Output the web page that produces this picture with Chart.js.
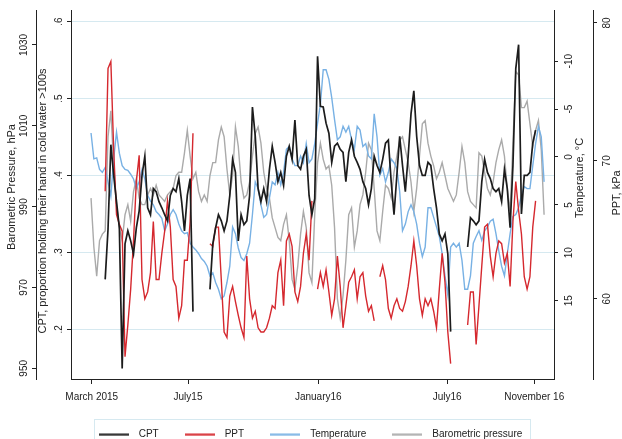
<!DOCTYPE html>
<html>
<head>
<meta charset="utf-8">
<script src="https://cdn.jsdelivr.net/npm/chart.js@4.4.0/dist/chart.umd.min.js"></script>
<style>
  html, body { margin: 0; padding: 0; background: #fff; }
  #wrap { width: 622px; height: 439px; }
</style>
</head>
<body>
<div id="wrap"><canvas id="chart" width="622" height="439"></canvas></div>
<script>
// one reading every 4 days, day 0 = 1 Jan 2015
const firstDay = 44
const stepDays = 4

const cpt = [
  null, null, null, null, null, 0.265, 0.33, 0.44, 0.40, 0.366,
  0.332, 0.149, 0.311, 0.328, 0.315, 0.298, 0.332, 0.354, 0.40, 0.425,
  0.358, 0.349, 0.383, 0.379, 0.366, 0.358, 0.349, 0.341, 0.374, 0.383,
  0.379, 0.396, 0.366, 0.328, 0.374, 0.396, 0.223, null, null, null,
  null, null, 0.252, 0.311, 0.332, 0.349, 0.341, 0.328, 0.341, 0.374,
  0.421, 0.404, 0.315, 0.349, 0.336, 0.341, 0.374, 0.489, 0.451, 0.383,
  0.366, 0.383, 0.366, 0.408, 0.438, 0.417, 0.392, 0.404, 0.387, 0.425,
  0.438, 0.421, 0.472, 0.413, 0.408, 0.425, 0.434, 0.374, 0.349, 0.37,
  0.555, 0.49, 0.489, 0.468, 0.455, 0.417, 0.438, 0.442, 0.434, 0.430,
  0.392, 0.430, 0.446, 0.425, 0.417, 0.408, 0.392, 0.383, 0.362, 0.383,
  0.425, 0.413, 0.404, 0.421, 0.442, 0.446, 0.392, 0.349, 0.400, 0.451,
  0.413, 0.379, 0.425, 0.480, 0.510, 0.451, 0.413, 0.400, 0.400, 0.417,
  0.413, 0.383, 0.358, 0.324, 0.315, 0.324, 0.298, 0.197, null, null,
  null, null, null, 0.307, 0.345, 0.341, 0.336, 0.341, 0.392, 0.421,
  0.404, 0.396, 0.383, 0.379, 0.383, 0.366, 0.408, 0.383, 0.332, 0.413,
  0.539, 0.570, 0.35, 0.40, 0.400, 0.404, 0.442, 0.459, null, null,
  null
]

const ppt = [
  null, null, null, null, null, 67.8, 76.7, 77.2, 70.8, 66.1,
  65.4, 64.9, 55.8, 58.1, 60.7, 64.2, 68.5, 70.4, 61.4, 60.0,
  60.5, 61.9, 65.6, 61.4, 61.4, 63.3, 64.9, 67.1, 65.2, 61.4,
  60.9, 58.6, 59.5, 62.8, 62.8, 65.6, 72.0, null, null, null,
  null, null, 64.0, 63.8, 65.2, 65.2, 61.4, 57.6, 57.2, 60.2,
  60.9, 59.8, 58.8, 57.9, 57.2, 63.1, 60.0, 58.6, 59.1, 57.9,
  57.6, 57.6, 57.9, 58.6, 59.5, 59.3, 61.9, 62.8, 59.5, 64.2,
  64.7, 63.8, 60.5, 59.8, 60.9, 63.3, 64.7, 62.8, 67.1, null,
  60.7, 61.9, 60.9, 62.1, 60.5, 58.8, 60.0, 63.1, 60.9, 57.9,
  59.5, 61.2, 61.6, 62.1, 60.0, 61.6, 61.9, 60.2, 59.1, 59.5,
  58.4, null, 61.6, 62.4, 61.4, 59.3, 58.6, 59.5, 60.0, 59.3,
  59.1, 59.8, 60.9, 62.4, 64.2, 62.4, 60.0, 58.8, 60.0, 59.5,
  60.0, 59.1, 57.9, 60.7, 63.3, 61.2, 57.6, 55.3, null, null,
  null, null, null, 58.1, 60.5, 60.5, 56.7, 59.5, 62.4, 65.2,
  65.4, 63.1, 61.6, 63.3, 64.2, 64.0, 62.6, 63.3, 60.9, 65.6,
  68.5, 66.4, 64.7, 61.6, 60.7, 61.6, 65.2, 67.1, null, null,
  null
]

const temperature = [
  -2.5, 0.2, 0.1, 1.3, 1.6, 1.1, 2.6, 4.1, 0.2, -2.6,
  -0.4, 0.9, 1.3, 1.4, 1.8, 2.3, 3.3, 2.6, 1.3, 2.3,
  4.0, 4.6, 5.0, 5.7, 6.0, 6.4, 7.7, 7.0, 6.0, 5.5,
  6.0, 7.0, 7.7, 8.0, 7.9, 9.0, 9.4, 9.7, 10.1, 10.6,
  10.9, 11.4, 12.4, 12.1, 13.1, 13.8, 14.8, 14.5, 13.1, 11.4,
  7.3, 8.0, 9.5, 10.5, 10.8, 10.1, 9.0, 6.0, 2.6, 3.3,
  5.0, 6.3, 6.0, 4.3, 2.6, 2.9, 1.6, 2.9, 1.6, -0.8,
  -1.1, 0.2, 0.9, 0.9, -0.1, 0.6, -1.4, 0.6, 0.2, -1.4,
  -3.5, -5.5, -9.1, -9.1, -8.1, -6.2, -3.9, -1.8, -2.1, -3.2,
  -2.6, -3.2, -1.8, -0.8, -3.2, -2.8, -1.1, -1.4, -0.1, 0.2,
  -4.5, -2.1, 1.9, 1.2, 2.6, 1.6, 0.2, 0.6, 1.2, 3.6,
  7.7, 7.0, 5.7, 5.0, 5.7, 7.0, 9.0, 10.4, 9.4, 5.3,
  5.3, 6.3, 7.3, 8.3, 10.1, 12.4, 14.4, 9.4, 9.0, 9.4,
  9.0, 10.8, 13.8, 13.8, 12.4, 9.0, 8.3, 7.7, 8.7, 7.7,
  7.3, 6.7, 6.5, 8.0, 9.8, 11.4, 12.4, 10.1, 8.0, 6.2,
  6.0, 5.3, 4.0, 3.1, 3.3, 3.3, 0.9, -1.4, -3.2, -2.1,
  2.6
]

const pressure = [
  992.1, 980.0, 972.8, 981.6, 983.2, 984.0, 1007.3, 1013.7, 1000.1, 990.5,
  984.8, 981.6, 988.0, 990.5, 986.4, 993.7, 996.9, 992.1, 990.5, 990.5,
  992.9, 994.5, 992.9, 995.3, 992.9, 992.1, 991.3, 992.9, 993.7, 994.5,
  997.7, 998.5, 998.5, 1003.3, 1008.9, 1002.5, 996.9, 998.5, 993.7, 991.3,
  992.9, 991.3, 997.7, 1000.9, 1000.9, 1006.5, 1009.7, 1007.3, 999.3, 992.9,
  997.7, 1009.7, 1004.9, 996.1, 992.1, 992.9, 996.1, 1002.5, 1008.1, 1009.7,
  1005.7, 998.5, 994.5, 992.1, 987.2, 984.8, 982.4, 981.6, 985.6, 988.0,
  981.6, 972.0, 969.6, 975.2, 983.2, 988.8, 984.8, 973.6, 971.2, 988.0,
  1000.9, 1005.7, 1001.7, 999.3, 1000.1, 995.3, 984.8, 967.2, 962.4, 968.0,
  976.8, 988.0, 989.7, 980.0, 984.0, 990.5, 992.9, 998.5, 1005.7, 1004.1,
  994.5, 984.0, 981.6, 988.8, 995.3, 994.5, 992.1, 998.5, 1002.5, 1006.5,
  1007.3, 1004.1, 1000.9, 996.1, 988.8, 994.5, 1002.5, 1010.5, 1011.3, 1005.7,
  1002.5, 1000.1, 996.9, 998.5, 1000.9, 997.7, 994.5, 992.9, 991.3, 992.9,
  998.5, 1004.9, 1000.9, 993.7, 991.3, 990.5, 989.7, 1003.3, 1002.5, 998.5,
  994.5, 992.9, 996.1, 1000.9, 1004.1, 1006.5, 1002.5, 994.5, 988.8, 1005.7,
  1023.4, 1022.6, 1014.5, 1014.5, 1016.1, 1010.5, 1004.9, 1008.9, 1011.3, 1004.1,
  988.0
]

const tickDays = [45, 181, 365, 547, 670]
const tickLabels = ['March 2015', 'July15', 'January16', 'July16', 'November 16']
const cptTicks = [0.2, 0.3, 0.4, 0.5, 0.6]
const tempTicks = [-10, -5, 0, 5, 10, 15]
const pptTicks = [60, 70, 80]
const pressureTicks = [950, 970, 990, 1010, 1030]

const days = cpt.map((v, i) => firstDay + stepDays * i)

const ink = '#222'
const gridBlue = '#d6e9f0'
const family = "'Liberation Sans', Arial, sans-serif"
Chart.defaults.font.family = family
Chart.defaults.font.size = 10
Chart.defaults.color = ink

const fixTicks = values => scale => { scale.ticks = values.map(v => ({ value: v })) }
const plain = v => String(v)

// y axis with rotated labels, fixed width
function yAxis(position, weight, min, max, values, width, pad, fmt, extra) {
  return Object.assign({
    type: 'linear', position, weight, min, max, bounds: 'data',
    afterBuildTicks: fixTicks(values),
    afterFit: s => { s.width = width },
    border: { color: ink, width: 1 },
    grid: { drawOnChartArea: false, tickLength: 4, tickColor: ink },
    ticks: { minRotation: 90, maxRotation: 90, crossAlign: 'center', padding: pad, color: ink, callback: fmt }
  }, extra)
}

function lineSwatch(color) {
  const c = document.createElement('canvas')
  c.width = 30
  c.height = 3
  const g = c.getContext('2d')
  g.fillStyle = color
  g.fillRect(0, 0.5, 30, 2)
  return c
}

const axisTitles = {
  id: 'axisTitles',
  afterDraw(chart) {
    const { ctx, scales } = chart
    const items = [
      ['Barometric Pressure, hPa', scales.yPressure.left + 12, 187],
      ['CPT, proportion holding their hand in cold water >100s', scales.yCPT.left + 7, 201],
      ['Temperature, °C', scales.yTemp.left + 26, 178],
      ['PPT, kPa', scales.yPPT.left + 24, 193]
    ]
    ctx.save()
    ctx.fillStyle = ink
    ctx.font = '11px ' + family
    ctx.textAlign = 'center'
    ctx.textBaseline = 'middle'
    items.forEach(([txt, x, y]) => {
      ctx.save()
      ctx.translate(x, y)
      ctx.rotate(-Math.PI / 2)
      ctx.fillText(txt, 0, 0)
      ctx.restore()
    })
    ctx.restore()
  }
}

const legendFrame = {
  id: 'legendFrame',
  afterDraw(chart) {
    const lg = chart.legend
    const boxes = lg.legendHitBoxes
    if (!boxes || !boxes.length) return
    const first = boxes[0]
    const last = boxes[boxes.length - 1]
    const left = Math.round(first.left) + 0.5
    const right = Math.round(last.left + last.width + 8) + 0.5
    const ctx = chart.ctx
    ctx.save()
    ctx.strokeStyle = gridBlue
    ctx.lineWidth = 1
    ctx.strokeRect(left, Math.round(lg.top + 10) + 0.5, right - left, 40)
    ctx.restore()
  }
}

const line = (label, data, axis, color, width) => ({
  label, data, yAxisID: axis, borderColor: color, backgroundColor: color,
  borderWidth: width, pointRadius: 0, tension: 0, fill: false, spanGaps: false
})

new Chart(document.getElementById('chart'), {
  type: 'line',
  data: {
    labels: days,
    datasets: [
      line('CPT', cpt, 'yCPT', '#1c1c1c', 1.7),
      line('PPT', ppt, 'yPPT', '#d5282e', 1.4),
      line('Temperature', temperature, 'yTemp', '#78b1e4', 1.4),
      line('Barometric pressure', pressure, 'yPressure', '#aaaaaa', 1.4)
    ]
  },
  options: {
    responsive: false,
    animation: false,
    layout: { padding: { top: 1, left: 0, right: 6, bottom: -10.7 } },
    plugins: {
      tooltip: { enabled: false },
      legend: {
        position: 'bottom',
        labels: {
          usePointStyle: true,
          pointStyleWidth: 40,
          padding: 21,
          color: ink,
          generateLabels: chart => chart.data.datasets.map((ds, i) => ({
            text: ds.label,
            datasetIndex: i,
            pointStyle: lineSwatch(ds.borderColor),
            fillStyle: ds.borderColor,
            strokeStyle: ds.borderColor,
            fontColor: ink,
            lineWidth: 0,
            hidden: false
          }))
        }
      }
    },
    scales: {
      x: {
        type: 'linear', position: 'bottom', min: 15.7, max: 698, bounds: 'data',
        afterBuildTicks: fixTicks(tickDays),
        afterFit: s => { s.height = 29.7 },
        border: { color: ink, width: 1 },
        grid: { drawOnChartArea: false, tickLength: 5, tickColor: ink },
        ticks: { autoSkip: false, maxRotation: 0, padding: 7, color: ink, callback: (v, i) => tickLabels[i] }
      },
      yPressure: yAxis('left', 2, 947.35, 1038.43, pressureTicks, 36, -3.3, plain),
      yCPT: yAxis('left', 1, 0.13544, 0.61392, cptTicks, 35, 3.3, v => v.toFixed(1).replace(/^0/, ''), {
        grid: { color: gridBlue, tickLength: 4, tickColor: ink }
      }),
      yTemp: yAxis('right', 1, -15.244, 23.17, tempTicks, 39, 3.8, plain, { reverse: true }),
      yPPT: yAxis('right', 2, 54.19, 80.868, pptTicks, 23, 4.9, plain)
    }
  },
  plugins: [axisTitles, legendFrame]
})
</script>
</body>
</html>
